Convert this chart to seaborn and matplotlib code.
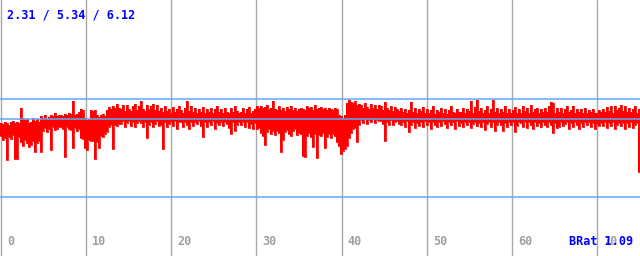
import numpy as np
import matplotlib
matplotlib.use("Agg")
import matplotlib.pyplot as plt
import matplotlib.transforms as mtransforms
import seaborn as sns

# bitrate range per 2 px column: upper / lower envelope
upper = [
    5.20, 5.16, 5.24, 5.20, 5.12, 5.22, 5.26, 5.18, 5.24, 5.20,
    5.78, 5.40, 5.30, 5.36, 5.18, 5.22, 5.40, 5.28, 5.34, 5.24,
    5.45, 5.40, 5.50, 5.36, 5.44, 5.52, 5.48, 5.58, 5.46, 5.50,
    5.52, 5.48, 5.55, 5.50, 5.58, 5.54, 6.06, 5.50, 5.56, 5.62,
    5.74, 5.70, 5.40, 5.30, 5.36, 5.70, 5.68, 5.72, 5.50, 5.44,
    5.50, 5.55, 5.48, 5.70, 5.82, 5.76, 5.86, 5.80, 5.93, 5.78,
    5.74, 5.88, 5.68, 5.90, 5.74, 5.66, 5.84, 5.92, 5.72, 5.86,
    6.05, 5.76, 5.68, 5.90, 5.74, 5.86, 5.94, 5.70, 5.88, 5.66,
    5.78, 5.62, 5.84, 5.66, 5.76, 5.60, 5.82, 5.64, 5.74, 5.86,
    5.70, 5.58, 5.80, 6.05, 5.66, 5.84, 5.62, 5.78, 5.60, 5.74,
    5.64, 5.82, 5.58, 5.74, 5.62, 5.80, 5.60, 5.76, 5.86, 5.62,
    5.76, 5.60, 5.80, 5.64, 5.58, 5.78, 5.62, 5.84, 5.66, 5.60,
    5.62, 5.78, 5.60, 5.74, 5.82, 5.58, 5.66, 5.76, 5.84, 5.80,
    5.86, 5.78, 5.82, 5.88, 5.74, 5.80, 6.05, 5.76, 5.72, 5.84,
    5.70, 5.78, 5.66, 5.82, 5.74, 5.86, 5.72, 5.80, 5.68, 5.76,
    5.80, 5.74, 5.70, 5.86, 5.78, 5.82, 5.72, 5.88, 5.76, 5.80,
    5.82, 5.74, 5.78, 5.70, 5.80, 5.76, 5.72, 5.78, 5.74, 5.50,
    5.45, 5.40, 5.50, 5.98, 6.08, 6.02, 5.96, 6.04, 5.90, 5.94,
    5.90, 5.78, 5.96, 5.82, 5.76, 5.92, 5.80, 5.90, 5.74, 5.88,
    5.84, 5.72, 6.02, 5.80, 5.70, 5.84, 5.68, 5.82, 5.74, 5.66,
    5.80, 5.64, 5.76, 5.60, 5.72, 6.02, 5.62, 5.80, 5.58, 5.74,
    5.66, 5.82, 5.60, 5.76, 5.58, 5.70, 5.84, 5.56, 5.72, 5.64,
    5.78, 5.60, 5.74, 5.56, 5.70, 5.86, 5.62, 5.58, 5.76, 5.64,
    5.62, 5.80, 5.58, 5.74, 5.66, 6.06, 5.60, 5.82, 6.09, 5.66,
    5.78, 5.58, 5.72, 5.84, 5.60, 5.76, 6.09, 5.62, 5.80, 5.58,
    5.74, 5.62, 5.86, 5.60, 5.76, 5.58, 5.70, 5.82, 5.60, 5.76,
    5.60, 5.84, 5.66, 5.78, 5.58, 5.88, 5.62, 5.74, 5.80, 5.60,
    5.76, 5.62, 5.80, 5.64, 5.86, 6.00, 5.96, 5.60, 5.78, 5.62,
    5.80, 5.58, 5.74, 5.86, 5.62, 5.70, 5.84, 5.60, 5.76, 5.64,
    5.74, 5.60, 5.80, 5.58, 5.72, 5.62, 5.76, 5.58, 5.60, 5.70,
    5.64, 5.76, 5.62, 5.82, 5.66, 5.86, 5.60, 5.84, 5.72, 5.78,
    5.90, 5.66, 5.84, 5.62, 5.80, 5.64, 5.74, 5.86, 5.60, 5.76,
]
lower = [
    4.70, 4.55, 4.62, 3.76, 4.65, 4.58, 4.72, 3.80, 3.78, 4.66,
    4.45, 4.30, 4.52, 4.40, 4.25, 4.35, 4.48, 4.06, 4.42, 4.50,
    4.08, 4.90, 5.00, 4.86, 4.95, 4.14, 5.02, 4.92, 4.98, 5.05,
    5.02, 4.96, 3.85, 5.05, 4.98, 4.92, 4.22, 5.00, 4.88, 4.95,
    4.62, 4.58, 4.20, 4.14, 4.55, 4.50, 4.48, 3.80, 4.45, 4.22,
    4.70, 4.65, 4.75, 4.85, 5.05, 5.10, 4.18, 5.12, 5.08, 5.15,
    5.15, 5.26, 5.02, 5.18, 5.28, 5.06, 5.22, 5.04, 5.18, 5.26,
    5.18, 5.04, 5.24, 4.62, 5.10, 5.24, 5.02, 5.16, 5.26, 5.06,
    5.10, 4.18, 5.24, 5.02, 5.15, 5.26, 5.06, 5.28, 4.98, 5.22,
    5.22, 5.04, 5.25, 5.12, 4.96, 5.24, 5.06, 5.22, 5.14, 5.26,
    5.08, 4.66, 5.22, 5.02, 5.24, 5.10, 5.26, 4.98, 5.20, 5.12,
    5.22, 5.06, 5.24, 5.14, 5.00, 4.75, 5.22, 4.90, 5.12, 5.25,
    5.10, 5.24, 5.02, 5.24, 5.00, 5.16, 4.96, 5.18, 4.95, 5.00,
    4.80, 4.70, 4.34, 4.85, 4.95, 4.78, 4.90, 4.72, 4.88, 4.80,
    4.06, 4.53, 4.85, 4.92, 4.78, 4.70, 4.88, 4.95, 4.72, 4.82,
    4.75, 3.92, 3.86, 4.70, 4.82, 4.65, 4.26, 4.78, 3.83, 4.72,
    4.70, 4.80, 4.22, 4.66, 4.75, 4.62, 4.78, 4.70, 4.45, 4.30,
    3.98, 4.10, 4.18, 4.30, 4.62, 4.80, 4.95, 5.00, 4.45, 5.10,
    5.30, 5.20, 5.35, 5.16, 5.32, 5.22, 5.36, 5.18, 5.30, 5.26,
    5.26, 5.14, 4.50, 5.24, 5.10, 5.30, 5.12, 5.24, 5.28, 5.16,
    5.10, 5.24, 5.02, 5.26, 4.84, 5.12, 5.22, 5.00, 5.20, 5.08,
    5.22, 5.04, 5.26, 5.10, 5.24, 4.96, 5.22, 5.12, 5.02, 5.24,
    5.06, 5.26, 5.14, 5.00, 5.22, 5.10, 5.24, 4.98, 5.26, 5.08,
    5.20, 5.02, 5.24, 5.10, 5.22, 5.00, 5.14, 5.22, 5.06, 5.18,
    5.04, 5.22, 4.92, 5.16, 5.24, 5.02, 5.22, 4.90, 5.10, 5.24,
    5.12, 4.88, 5.18, 5.04, 5.22, 5.10, 5.24, 4.84, 5.06, 5.22,
    5.18, 5.02, 5.24, 5.00, 5.22, 5.10, 4.96, 5.22, 5.06, 5.20,
    5.04, 5.22, 5.10, 5.02, 5.24, 5.12, 4.80, 5.20, 5.00, 5.04,
    5.22, 5.06, 5.14, 5.24, 4.96, 5.20, 5.02, 5.22, 5.10, 4.98,
    5.18, 5.04, 5.24, 5.12, 5.22, 5.02, 5.20, 4.95, 5.16, 5.06,
    5.20, 5.08, 5.22, 5.00, 5.18, 5.06, 5.24, 4.98, 5.12, 5.20,
    5.06, 5.20, 4.98, 5.18, 5.04, 5.22, 5.00, 5.10, 5.18, 3.28,
]

stats = [2.31, 5.34, 6.12]  # min / avg / max
brat = 1.09
x_ticks = [0, 10, 20, 30, 40, 50, 60, 70]

STEP = 0.235          # seconds per column
X0, X1 = -0.12, 75.05
PX = 640 / (X1 - X0)  # pixels per second

sns.set_theme(style="white")
plt.rcParams["font.family"] = ["DejaVu Sans Mono"]

fig = plt.figure(figsize=(6.4, 2.56), dpi=100)
ax = fig.add_axes([0, 0, 1, 1])
ax.set_xlim(X0, X1)
ax.set_ylim(0, 10)
ax.axis("off")

n = min(len(upper), len(lower))
hi = np.array(upper[:n])
lo = np.array(lower[:n])
x = X0 + np.arange(n) * STEP

for t in x_ticks:
    ax.axvline(t, color="#a8a8a8", lw=1.0, zorder=0)

ax.bar(x, hi - lo, bottom=lo, width=STEP, align="edge",
       color="#ff0000", linewidth=0, zorder=2)
xs = np.append(x, x[-1] + STEP)
sns.lineplot(x=xs, y=np.append(hi, hi[-1]), drawstyle="steps-post",
             color="#ff0000", lw=0.6, ax=ax, zorder=2, legend=False)
sns.lineplot(x=xs, y=np.append(lo, lo[-1]), drawstyle="steps-post",
             color="#ff0000", lw=0.6, ax=ax, zorder=2, legend=False)

for v in stats:
    ax.axhline(v, color="#60a8f8", lw=1.1, zorder=3)

# tick labels sit inside the plot, just right of each grid line
bottom = mtransforms.blended_transform_factory(ax.transData, ax.transAxes)
for t in x_ticks:
    ax.text(t + 6 / PX, 1 - 245 / 256, str(t), transform=bottom,
            color="#a0a0a0", fontsize=8.5, fontweight="bold", va="baseline")

ax.text(7 / 640, 1 - 19 / 256, " / ".join(f"{v:.2f}" for v in stats),
        transform=ax.transAxes, color="#0000ff", fontsize=8.5,
        fontweight="bold", va="baseline")
ax.text(633 / 640, 1 - 245 / 256, f"BRat {brat:.2f}", transform=ax.transAxes,
        color="#0000ff", fontsize=8.5, fontweight="bold", va="baseline",
        ha="right", zorder=5)

fig.savefig("out.png", dpi=100)
